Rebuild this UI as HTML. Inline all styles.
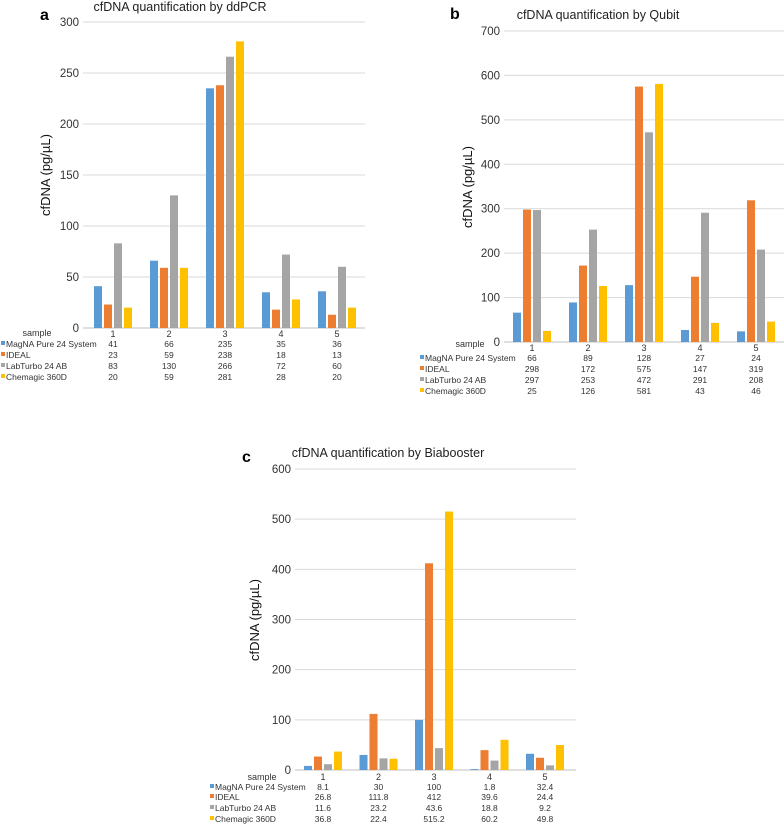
<!DOCTYPE html>
<html><head><meta charset="utf-8"><style>
html,body{margin:0;padding:0;background:#fff}
svg{display:block;font-family:"Liberation Sans",Arial,sans-serif}
</style></head><body>
<svg id="chart" width="784" height="824" viewBox="0 0 784 824"></svg>
<script>
const categories = ["1","2","3","4","5"];
const seriesNames = ["MagNA Pure 24 System","IDEAL","LabTurbo 24 AB","Chemagic 360D"];
const colors = ["#5B9BD5","#ED7D31","#A5A5A5","#FFC000"];
const ddpcrMagna = [41,66,235,35,36];
const ddpcrIdeal = [23,59,238,18,13];
const ddpcrLab = [83,130,266,72,60];
const ddpcrChem = [20,59,281,28,20];
const ddpcrTicks = [0,50,100,150,200,250,300];
const qubitMagna = [66,89,128,27,24];
const qubitIdeal = [298,172,575,147,319];
const qubitLab = [297,253,472,291,208];
const qubitChem = [25,126,581,43,46];
const qubitTicks = [0,100,200,300,400,500,600,700];
const biaMagna = [8.1,30,100,1.8,32.4];
const biaIdeal = [26.8,111.8,412,39.6,24.4];
const biaLab = [11.6,23.2,43.6,18.8,9.2];
const biaChem = [36.8,22.4,515.2,60.2,49.8];
const biaTicks = [0,100,200,300,400,500,600];

const svg = document.getElementById('chart');
const NS = 'http://www.w3.org/2000/svg';
function mk(tag, attrs, parent, text){
  const e = document.createElementNS(NS, tag);
  for (const k in attrs) e.setAttribute(k, attrs[k]);
  if (text !== undefined) e.textContent = text;
  parent.appendChild(e);
  return e;
}

function panel(cfg){
  const g = mk('g', {}, svg);
  
  
  const maxV = cfg.ticks[cfg.ticks.length-1];
  const y = v => cfg.y0 - (v / maxV) * (cfg.y0 - cfg.yTop);
  const x = i => cfg.c0 + i * cfg.step;
  const lt = mk('text', {x: cfg.letterX, y: cfg.letterY, 'font-size': 16, 'font-weight': 'bold', fill: '#000'}, g, cfg.letter);
  
  
  const tt = mk('text', {x: cfg.titleX, y: cfg.titleY, 'font-size': 12.5, 'text-anchor': 'middle', fill: '#222'}, g, cfg.title);
  
  
  cfg.ticks.forEach(t => {
    const ln = mk('line', {x1: cfg.gx1, x2: cfg.gx2, y1: y(t), y2: y(t), stroke: t === 0 ? '#bfbfbf' : '#d9d9d9', 'stroke-width': 1}, g);
    
    
    const tl = mk('text', {x: cfg.gx1 - 4, y: y(t) + 4, 'font-size': 11.5, 'text-anchor': 'end', fill: '#333'}, g, String(t));
    
    
  });
  const yl = mk('text', {x: 0, y: 0, 'font-size': 13, 'text-anchor': 'middle', fill: '#111', transform: `translate(${cfg.ylX},${cfg.ylY}) rotate(-90)`}, g, 'cfDNA (pg/µL)');
  
  
  const bw = 8, bs = 10;
  cfg.series.forEach((vals, s) => {
    vals.forEach((v, i) => {
      const bx = x(i) - 19 + s * bs;
      const r = mk('rect', {x: bx, y: y(v), width: bw, height: cfg.y0 - y(v), fill: colors[s]}, g);
      
      
    });
  });
  const sl = mk('text', {x: cfg.sampleX, y: cfg.sampleY, 'font-size': 9, 'text-anchor': 'middle', fill: '#333'}, g, 'sample');
  
  
  categories.forEach((c, i) => {
    const ct = mk('text', {x: x(i), y: cfg.rows[0], 'font-size': 9, 'text-anchor': 'middle', fill: '#333'}, g, c);
    
    
  });
  cfg.series.forEach((vals, s) => {
    const ry = cfg.rows[s+1];
    const m = mk('rect', {x: cfg.legX, y: ry - 6, width: 4, height: 4, fill: colors[s]}, g);
    
    
    const lt2 = mk('text', {x: cfg.legX + 5, y: ry, 'font-size': 8.5, fill: '#333'}, g, seriesNames[s]);
    
    
    vals.forEach((v, i) => {
      const vt = mk('text', {x: x(i), y: ry, 'font-size': 8.5, 'text-anchor': 'middle', fill: '#333'}, g, String(v));
      
      
    });
  });
}

panel({letter:'a', letterX:40, letterY:20, title:'cfDNA quantification by ddPCR', titleX:180, titleY:11,
  ticks: ddpcrTicks, y0:328, yTop:22, gx1:83, gx2:365, c0:113, step:56,
  ylX:50, ylY:175, sampleX:37, sampleY:336, rows:[337,347,358,369,380], legX:1,
  series:[ddpcrMagna, ddpcrIdeal, ddpcrLab, ddpcrChem]});
panel({letter:'b', letterX:450, letterY:19, title:'cfDNA quantification by Qubit', titleX:598, titleY:19,
  ticks: qubitTicks, y0:342, yTop:31, gx1:504, gx2:784, c0:532, step:56,
  ylX:472, ylY:187, sampleX:470, sampleY:347, rows:[351,361,372,383,394], legX:420,
  series:[qubitMagna, qubitIdeal, qubitLab, qubitChem]});
panel({letter:'c', letterX:242, letterY:462, title:'cfDNA quantification by Biabooster', titleX:388, titleY:457,
  ticks: biaTicks, y0:770, yTop:469, gx1:295, gx2:576, c0:323, step:55.5,
  ylX:259, ylY:620, sampleX:262, sampleY:780, rows:[780,790,800,811,822], legX:210,
  series:[biaMagna, biaIdeal, biaLab, biaChem]});
</script>
</body></html>
